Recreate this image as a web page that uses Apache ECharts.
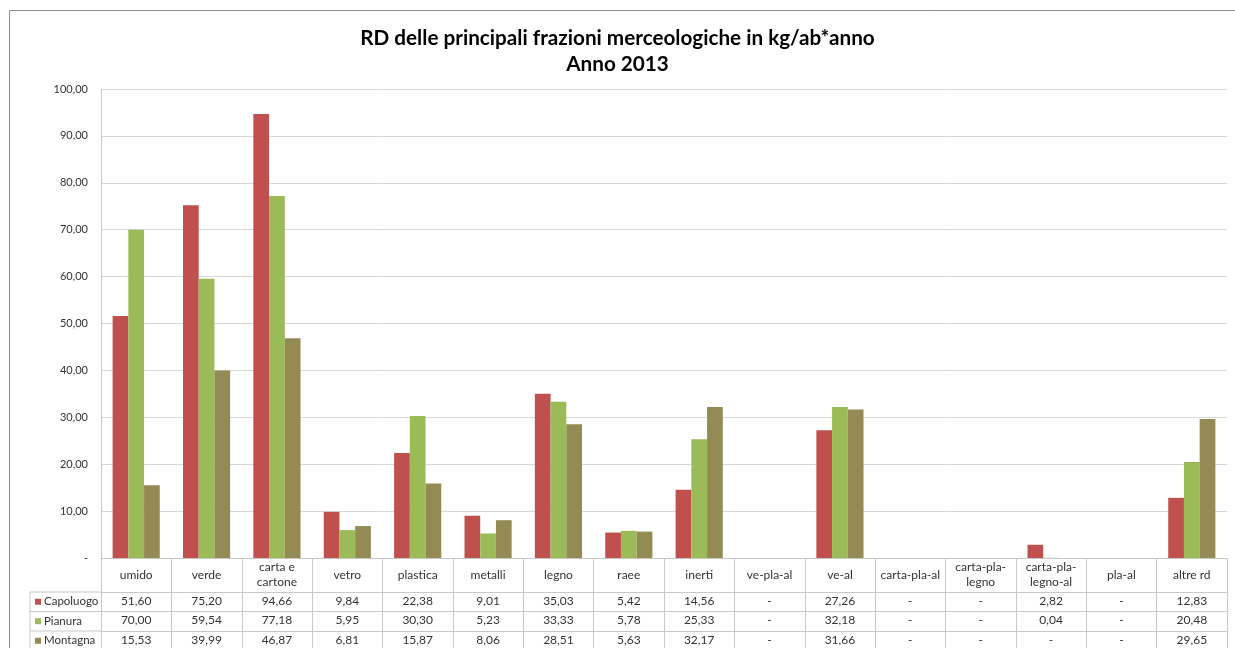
<!DOCTYPE html>
<html>
<head>
<meta charset="utf-8">
<script src="https://cdn.jsdelivr.net/npm/echarts@6/dist/echarts.min.js"></script>
<style>html,body{margin:0;padding:0;background:#fff}#c{width:1235px;height:648px}</style>
</head>
<body>
<div id="c"></div>
<script>
var categories = ['umido','verde','carta e\ncartone','vetro','plastica','metalli','legno','raee','inerti','ve-pla-al','ve-al','carta-pla-al','carta-pla-\nlegno','carta-pla-\nlegno-al','pla-al','altre rd'];
var seriesNames = ['Capoluogo','Pianura','Montagna'];
var capoluogo = [51.60,75.20,94.66,9.84,22.38,9.01,35.03,5.42,14.56,null,27.26,null,null,2.82,null,12.83];
var pianura   = [70.00,59.54,77.18,5.95,30.30,5.23,33.33,5.78,25.33,null,32.18,null,null,0.04,null,20.48];
var montagna  = [15.53,39.99,46.87,6.81,15.87,8.06,28.51,5.63,32.17,null,31.66,null,null,null,null,29.65];
var yTicks = [0,10,20,30,40,50,60,70,80,90,100];
var colors = ['#C0504D','#9BBB59','#948A54'];

var FONT = 'Lato, "Open Sans", sans-serif';
var gridLeft = 101, gridRight = 1227, gridTop = 89, gridBottomY = 558;
var headerH = 34, rowH = 19.5, leftColX = 30;
var lineColor = '#c8c8c8';

function fmt(v){ return (v === null || v === undefined || v === 0) ? '-' : v.toFixed(2).replace('.', ','); }
var allData = [capoluogo, pianura, montagna];

var xAxes = [{
  type: 'category', data: categories, gridIndex: 0, position: 'bottom',
  axisLine: {lineStyle: {color: lineColor}},
  axisTick: {show: true, length: 92, lineStyle: {color: lineColor}},
  axisLabel: {interval: 0, color: '#333', fontFamily: FONT, fontSize: 12, lineHeight: 15, margin: 17, verticalAlign: 'middle'}
}];
allData.forEach(function(arr, i){
  xAxes.push({
    type: 'category', data: arr.map(fmt), gridIndex: 0, position: 'bottom',
    offset: headerH + rowH * i,
    axisLine: {show: true, lineStyle: {color: lineColor}},
    axisTick: {show: false},
    axisLabel: {interval: 0, color: '#333', fontFamily: FONT, fontSize: 12, margin: 3}
  });
});

var graphics = [
  {type: 'rect', shape: {x: 9.5, y: 10.5, width: 1240, height: 660}, style: {fill: 'none', stroke: '#8c8c8c', lineWidth: 1}, silent: true}
];
for (var i = 0; i < 4; i++) {
  var yy = gridBottomY + headerH + rowH * i;
  graphics.push({type: 'line', shape: {x1: leftColX, y1: yy, x2: gridLeft, y2: yy}, style: {stroke: lineColor, lineWidth: 1}, silent: true});
}
graphics.push({type: 'line', shape: {x1: leftColX, y1: gridBottomY + headerH, x2: leftColX, y2: 660}, style: {stroke: lineColor, lineWidth: 1}, silent: true});
seriesNames.forEach(function(n, i){
  var cy = gridBottomY + headerH + rowH * i + rowH / 2;
  graphics.push({type: 'rect', shape: {x: 35, y: cy - 3, width: 6, height: 6}, style: {fill: colors[i]}, silent: true});
  graphics.push({type: 'text', x: 44, y: cy, style: {text: n, fill: '#333', font: '11.5px ' + FONT, verticalAlign: 'middle', align: 'left'}, silent: true});
});

var series = allData.map(function(arr, i){
  return {name: seriesNames[i], type: 'bar', data: arr, xAxisIndex: 0, yAxisIndex: 0,
    itemStyle: {color: colors[i]}, barGap: '0%', barCategoryGap: '33%'};
});

var chart = echarts.init(document.getElementById('c'), null, {renderer: 'canvas'});
chart.setOption({
  animation: false,
  backgroundColor: '#fff',
  title: {
    text: 'RD delle principali frazioni merceologiche in kg/ab*anno\nAnno 2013',
    left: 'center', top: 20,
    textStyle: {fontFamily: FONT, fontWeight: 'bold', fontSize: 20.7, lineHeight: 26, color: '#000'}
  },
  grid: {left: gridLeft, right: 1235 - gridRight, top: gridTop, bottom: 648 - gridBottomY, containLabel: false},
  xAxis: xAxes,
  yAxis: {
    type: 'value', min: yTicks[0], max: yTicks[yTicks.length - 1], interval: 10,
    axisLine: {show: true, lineStyle: {color: lineColor}},
    axisTick: {show: false},
    splitLine: {lineStyle: {color: '#d9d9d9'}},
    axisLabel: {color: '#333', fontFamily: FONT, fontSize: 11, margin: 13, formatter: function(v){ return fmt(v); }}
  },
  series: series,
  graphic: graphics
});
</script>
</body>
</html>
